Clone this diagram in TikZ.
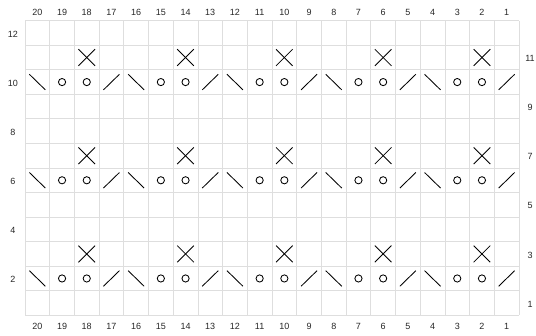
\documentclass[tikz,border=0pt]{standalone}
\usepackage{fontspec}
\setmainfont{Liberation Sans}
\begin{document}
\begin{tikzpicture}[x=1pt,y=-1pt,
  gridline/.style={draw=black!13,line width=0.8pt},
  sym/.style={draw=black,line width=0.85pt},
  lbl/.style={font=\fontsize{9}{10}\selectfont,text=black!85,inner sep=0pt}]
\useasboundingbox (0,0) rectangle (536,336);
% grid
\foreach \i in {0,...,20} \draw[gridline] ({25+\i*24.7},20.7) -- ({25+\i*24.7},315.3);
\foreach \j in {0,...,12} \draw[gridline] (25,{20.7+\j*24.55}) -- (519,{20.7+\j*24.55});
% column labels
\foreach \c in {1,...,20} {
  \pgfmathsetmacro\cx{25+(20-\c+0.5)*24.7}
  \node[lbl] (top\c) at (\cx,12) {\c};
  \node[lbl] (bot\c) at (\cx,326) {\c};
}
% row labels
\foreach \r in {2,4,...,12} {
  \pgfmathsetmacro\cy{20.7+(12-\r+0.5)*24.55}
  \node[lbl] (left\r) at (13,\cy+1) {\r};
}
\foreach \r in {1,3,...,11} {
  \pgfmathsetmacro\cy{20.7+(12-\r+0.5)*24.55}
  \node[lbl] (right\r) at (530,\cy+1) {\r};
}
% symbol rows
\foreach \r in {2,6,10} {
  \foreach \c in {1,...,20} {
    \pgfmathsetmacro\cx{25+(20-\c+0.5)*24.7}
    \pgfmathsetmacro\cy{20.7+(12-\r+0.5)*24.55}
    \pgfmathtruncatemacro\m{mod(\c,4)}
    \ifnum\m=1 \draw[sym] ({\cx-8},{\cy+7.8}) -- ({\cx+8},{\cy-7.8}); \fi
    \ifnum\m=0 \draw[sym] ({\cx-8},{\cy-7.8}) -- ({\cx+8},{\cy+7.8}); \fi
    \ifnum\m=2 \draw[sym] (\cx,\cy) circle[radius=3.6]; \fi
    \ifnum\m=3 \draw[sym] (\cx,\cy) circle[radius=3.6]; \fi
  }
}
\foreach \r in {3,7,11} {
  \foreach \c in {2,6,10,14,18} {
    \pgfmathsetmacro\cx{25+(20-\c+0.5)*24.7}
    \pgfmathsetmacro\cy{20.7+(12-\r+0.5)*24.55}
    \draw[sym] ({\cx-8.3},{\cy-8.3}) -- ({\cx+8.3},{\cy+8.3});
    \draw[sym] ({\cx-8.3},{\cy+8.3}) -- ({\cx+8.3},{\cy-8.3});
  }
}
\end{tikzpicture}
\end{document}
